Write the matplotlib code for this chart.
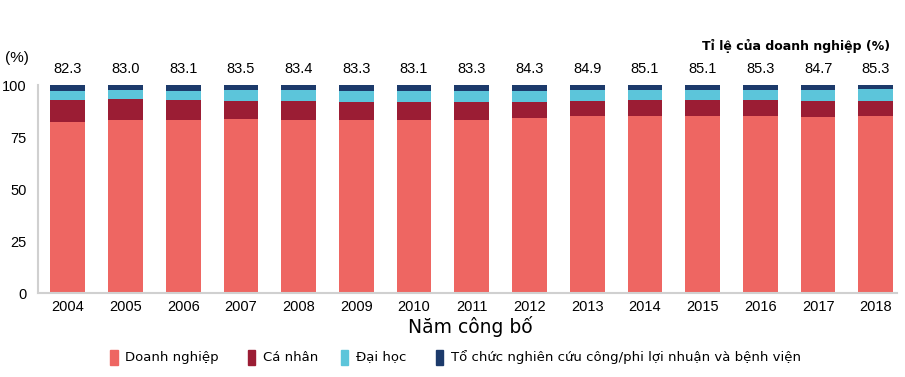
import numpy as np
import matplotlib.pyplot as plt
from matplotlib.patches import Rectangle

years = [str(y) for y in range(2004, 2019)]
doanh_nghiep = [82.3, 83.0, 83.1, 83.5, 83.4, 83.3, 83.1, 83.3, 84.3, 84.9, 85.1, 85.1, 85.3, 84.7, 85.3]
ca_nhan = [10.7, 10.1, 9.7, 8.8, 8.9, 8.5, 8.7, 8.5, 7.5, 7.4, 7.7, 7.7, 7.5, 7.6, 7.0]
dai_hoc = [4.3, 4.3, 4.3, 5.3, 5.3, 5.3, 5.3, 5.3, 5.3, 5.3, 4.8, 4.8, 4.8, 5.3, 5.8]
to_chuc = [round(100 - a - b - c, 1) for a, b, c in zip(doanh_nghiep, ca_nhan, dai_hoc)]

series = [
    ("Doanh nghiệp", doanh_nghiep, "#EE6662"),
    ("Cá nhân", ca_nhan, "#9B1D34"),
    ("Đại học", dai_hoc, "#5CC5DA"),
    ("Tổ chức nghiên cứu công/phi lợi nhuận và bệnh viện", to_chuc, "#1C3A6B"),
]

fig = plt.figure(figsize=(9.05, 3.77), dpi=100)
ax = fig.add_axes([0.0417, 0.2228, 0.949, 0.5517])

x = np.arange(len(years))
bottom = np.zeros(len(years))
for name, vals, col in series:
    ax.bar(x, vals, width=0.6, bottom=bottom, color=col, linewidth=0)
    bottom += np.array(vals)

# value labels for the enterprise share
for xi, v in zip(x, doanh_nghiep):
    ax.text(xi, 107.5, f"{v:.1f}", ha="center", va="center", fontsize=10.5,
            family="Liberation Sans", clip_on=False)

ax.set_xlim(-0.52, 14.36)
ax.set_ylim(0, 100)
ax.set_yticks([0, 25, 50, 75, 100])
ax.set_xticks(x)
ax.set_xticklabels(years)
for lab in ax.get_xticklabels() + ax.get_yticklabels():
    lab.set_family("Liberation Sans")
    lab.set_fontsize(10.5)
ax.tick_params(length=0, pad=5)
ax.tick_params(axis="y", pad=8)
for s in ["top", "right"]:
    ax.spines[s].set_visible(False)
for s in ["left", "bottom"]:
    ax.spines[s].set_color("#D0D0D0")
    ax.spines[s].set_linewidth(1.5)

fig.text(0.005, 0.845, "(%)", fontsize=11, family="Liberation Sans", va="center")
fig.text(0.984, 0.877, "Tỉ lệ của doanh nghiệp (%)", fontsize=9, fontweight="bold",
         ha="right", va="center")
fig.text(0.52, 0.133, "Năm công bố", fontsize=13.5, ha="center", va="center",
         family="DejaVu Sans")

# manual legend
leg_x = [0.1215, 0.2735, 0.3765, 0.4815]
for (name, vals, col), lx in zip(series, leg_x):
    fig.add_artist(Rectangle((lx, 0.032), 0.0085, 0.04, color=col,
                             transform=fig.transFigure))
    fig.text(lx + 0.017, 0.053, name, fontsize=9.5, va="center")

fig.savefig("out.png", dpi=100)
